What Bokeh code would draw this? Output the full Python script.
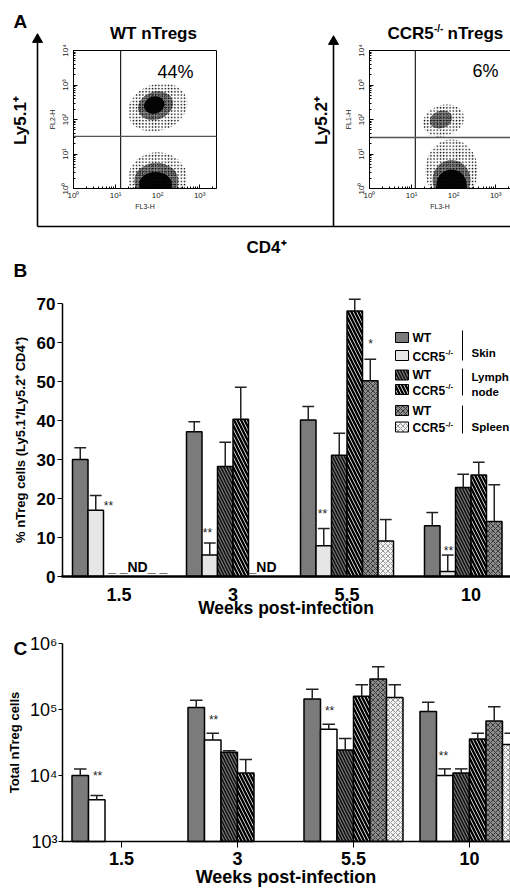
import math
from bokeh.plotting import figure
from bokeh.models import (Range1d, FixedTicker, ColumnDataSource, LinearAxis, LogAxis, LogScale)
from bokeh.layouts import column
from bokeh.embed import file_html
from bokeh.resources import INLINE
from bokeh.core.properties import value

FONT = "Liberation Sans"
nan = float("nan")

# ---------------------------------------------------------------- data
# Panel A: flow-cytometry populations (log10 units), layered density estimate
# centre x (FL3-H), centre y (FL2-H / FL1-H), width, height, tilt, layer (0 halo, 1 body, 2 core)
wt_pop_x = [2.00, 1.95, 1.92, 2.00, 1.97, 1.95]
wt_pop_y = [2.35, 2.40, 2.42, 0.30, 0.22, 0.12]
wt_pop_w = [1.45, 0.85, 0.50, 1.40, 1.05, 0.78]
wt_pop_h = [1.35, 0.80, 0.50, 1.50, 1.05, 0.72]
wt_pop_tilt = [0.35, 0.35, 0.30, 0.0, 0.0, 0.0]
wt_pop_layer = [0, 1, 2, 0, 1, 2]
wt_upper_pct = "44%"

ko_pop_x = [1.76, 1.70, 1.95, 1.95, 1.95]
ko_pop_y = [1.97, 2.00, 0.52, 0.25, 0.10]
ko_pop_w = [1.00, 0.55, 1.25, 0.90, 0.72]
ko_pop_h = [0.90, 0.50, 1.80, 1.15, 0.90]
ko_pop_tilt = [0.3, 0.3, 0.0, 0.0, 0.0]
ko_pop_layer = [0, 1, 0, 1, 2]
ko_upper_pct = "6%"

wt_gate_x, wt_gate_y = 1.12, 1.51
ko_gate_x, ko_gate_y = 1.09, 1.48
facs_decades = [0, 1, 2, 3, 4]
facs_tick_labels = ["10⁰", "10¹", "10²", "10³", "10⁴"]

# Panels B and C
weeks = ["1.5", "3", "5.5", "10"]
series = ["WT skin", "CCR5-/- skin", "WT lymph node", "CCR5-/- lymph node", "WT spleen", "CCR5-/- spleen"]

# Panel B: % nTreg cells (Ly5.1+/Ly5.2+ CD4+), mean and SEM
pct_wt_skin = [30.0, 37.1, 40.1, 13.0]
pct_ko_skin = [17.0, 5.5, 7.9, 1.3]
pct_wt_ln = [nan, 28.2, 31.1, 22.8]
pct_ko_ln = [nan, 40.3, 68.1, 26.0]
pct_wt_spl = [nan, nan, 50.2, 14.1]
pct_ko_spl = [nan, nan, 9.1, nan]
sem_wt_skin = [3.0, 2.6, 3.5, 3.4]
sem_ko_skin = [3.8, 3.1, 4.4, 4.2]
sem_wt_ln = [nan, 6.2, 5.6, 3.4]
sem_ko_ln = [nan, 8.2, 3.0, 3.3]
sem_wt_spl = [nan, nan, 5.5, 9.4]
sem_ko_spl = [nan, nan, 5.5, nan]
pct_ticks = [0, 10, 20, 30, 40, 50, 60, 70]
nd_weeks_b = ["1.5", "3"]
nd_text_b = ["_ _ND_ _", "_ND"]

# Panel C: total nTreg cells, mean and SEM
tot_wt_skin = [1.0e4, 1.07e5, 1.44e5, 9.3e4]
tot_ko_skin = [4.3e3, 3.45e4, 5.0e4, 1.0e4]
tot_wt_ln = [nan, 2.25e4, 2.44e4, 1.09e4]
tot_ko_ln = [nan, 1.09e4, 1.59e5, 3.57e4]
tot_wt_spl = [nan, nan, 2.9e5, 6.7e4]
tot_ko_spl = [nan, nan, 1.52e5, 2.94e4]
sem_tot_wt_skin = [2.6e3, 3.1e4, 5.9e4, 3.6e4]
sem_tot_ko_skin = [6.7e2, 9.1e3, 1.0e4, 2.6e3]
sem_tot_wt_ln = [nan, 1.3e3, 1.2e4, 1.7e3]
sem_tot_ko_ln = [nan, 6.5e3, 7.8e4, 7.9e3]
sem_tot_wt_spl = [nan, nan, 1.54e5, 4.3e4]
sem_tot_ko_spl = [nan, nan, 8.5e4, 1.42e4]
tot_ticks = [1e3, 1e4, 1e5, 1e6]
tot_tick_labels = ["10³", "10⁴", "10⁵", "10⁶"]

# significance marks: week, text, offset from group centre (bar widths), height
sig_b_week = ["1.5", "3", "5.5", "10", "5.5"]
sig_b_text = ["**", "**", "**", "**", "*"]
sig_b_dx = [-0.68, -1.65, -1.58, -1.45, 1.52]
sig_b_y = [18.2, 11.2, 16.1, 6.6, 59.5]
sig_c_week = ["1.5", "3", "5.5", "10"]
sig_c_text = ["**", "**", "**", "**"]
sig_c_dx = [-1.45, -1.45, -1.45, -1.58]
sig_c_y = [1.0e4, 6.9e4, 9.4e4, 2.0e4]


# ---------------------------------------------------------------- helpers
def bar_styles(light_ko_skin):
    return [
        dict(fill_color="#7b7b7b"),
        dict(fill_color=light_ko_skin),
        dict(fill_color="#7a7a7a", hatch_pattern="left_diagonal_line", hatch_color="#111",
             hatch_scale=6, hatch_weight=1.6),
        dict(fill_color="white", hatch_pattern="left_diagonal_line", hatch_color="black",
             hatch_scale=7, hatch_weight=2.4),
        dict(fill_color="#8c8c8c", hatch_pattern="diagonal_cross", hatch_color="#3a3a3a",
             hatch_scale=5, hatch_weight=1),
        dict(fill_color="#f4f4f4", hatch_pattern="diagonal_cross", hatch_color="#9a9a9a",
             hatch_scale=5, hatch_weight=1),
    ]


def txt(p, x, y, text, size, bold=False, align="center", baseline="middle", angle=0.0, color="black"):
    p.text(x=[x], y=[y], text=[text], text_font=value(FONT), text_font_size=f"{size}px",
           text_font_style="bold" if bold else "normal", text_align=align,
           text_baseline=baseline, angle=angle, text_color=color)


def canvas_fig(height, x_range, y_range, y_log=False):
    p = figure(width=510, height=height, x_range=x_range, y_range=y_range,
               x_axis_location=None, y_axis_location=None, title=None,
               output_backend="svg", toolbar_location=None, min_border=0)
    if y_log:
        p.y_scale = LogScale()
    p.grid.visible = False
    p.outline_line_color = None
    p.background_fill_color = "white"
    p.border_fill_color = "white"
    return p


def style_axis(ax, label_size, bold_labels):
    ax.axis_line_color = "black"
    ax.major_tick_line_color = "black"
    ax.minor_tick_line_color = None
    ax.axis_label_text_font = FONT
    ax.axis_label_text_font_style = "bold"
    ax.axis_label_text_color = "black"
    ax.major_label_text_font = FONT
    ax.major_label_text_color = "black"
    ax.major_label_text_font_size = f"{label_size}px"
    ax.major_label_text_font_style = "bold" if bold_labels else "normal"


# ---------------------------------------------------------------- panel A
# page-pixel canvas for the decorations, log10 ranges for the two flow plots
PXX, PXY = 42.06, 34.5
pa = canvas_fig(258, Range1d(0, 510), Range1d(258, 0))
pa.extra_x_ranges = {"wt_x": Range1d((0 - 73) / PXX, (510 - 73) / PXX),
                     "ko_x": Range1d((0 - 369) / PXX, (510 - 369) / PXX)}
pa.extra_y_ranges = {"facs_y": Range1d((188 - 258) / PXY, (188 - 0) / PXY)}

minor = [d + math.log10(m) for d in range(4) for m in range(2, 10)]


def facs(p, xname, xmax, ylabel, xs, ys, ws, hs, tilts, layers, gx, gy, pct, pct_xy):
    rn = dict(x_range_name=xname, y_range_name="facs_y")
    for lay, style in ((0, dict(fill_alpha=0, hatch_pattern="dot", hatch_color="black",
                                hatch_scale=3.2, hatch_weight=1.0)),
                       (1, dict(fill_color="black", fill_alpha=0.45, hatch_pattern="dot",
                                hatch_color="black", hatch_scale=2.2, hatch_weight=1.4)),
                       (2, dict(fill_color="black", fill_alpha=0.95))):
        idx = [i for i, l in enumerate(layers) if l == lay]
        if not idx:
            continue
        src = ColumnDataSource(dict(x=[xs[i] for i in idx], y=[ys[i] for i in idx],
                                    w=[ws[i] for i in idx], h=[hs[i] for i in idx],
                                    a=[tilts[i] for i in idx]))
        p.ellipse(x="x", y="y", width="w", height="h", angle="a", source=src,
                  line_color=None, **style, **rn)
    # mask what falls below the lower axis of the plot box
    p.quad(left=[-0.2], right=[xmax], bottom=[-0.7], top=[0], fill_color="white",
           line_color=None, **rn)
    p.quad(left=[0], right=[xmax], bottom=[0], top=[4], fill_color=None,
           line_color="black", line_width=1, **rn)
    p.segment(x0=[gx], y0=[0], x1=[gx], y1=[4], line_color="#222", line_width=1.2, **rn)
    p.segment(x0=[0], y0=[gy], x1=[xmax], y1=[gy], line_color="#555", line_width=1.4, **rn)
    overrides = dict(zip(facs_decades, facs_tick_labels))
    xa = LinearAxis(fixed_location=0, bounds=(0, min(xmax, 3.4)), axis_label="FL3-H", **rn)
    ya = LinearAxis(fixed_location=0, bounds=(0, 4), axis_label=ylabel, **rn)
    xa.ticker = FixedTicker(ticks=facs_decades[:4], minor_ticks=[m for m in minor if m < xmax])
    ya.ticker = FixedTicker(ticks=facs_decades, minor_ticks=minor)
    for ax in (xa, ya):
        ax.major_label_overrides = overrides
        ax.major_tick_in = 4
        ax.major_tick_out = 0
        ax.minor_tick_in = 2
        ax.minor_tick_out = 0
        ax.major_tick_line_color = "black"
        ax.minor_tick_line_color = "black"
        ax.axis_line_color = "black"
        ax.major_label_text_font = FONT
        ax.major_label_text_font_size = "8px"
        ax.major_label_text_color = "#222"
        ax.axis_label_text_font = FONT
        ax.axis_label_text_font_size = "7px"
        ax.axis_label_text_font_style = "normal"
        ax.axis_label_text_color = "#222"
    xa.major_label_standoff = 2
    xa.axis_label_standoff = 0
    ya.major_label_orientation = "vertical"
    ya.major_label_standoff = 4
    ya.axis_label_standoff = 2
    p.add_layout(xa, "below")
    p.add_layout(ya, "left")
    txt(p, pct_xy[0], pct_xy[1], pct, 18)


facs(pa, "wt_x", 143 / PXX, "FL2-H", wt_pop_x, wt_pop_y, wt_pop_w, wt_pop_h, wt_pop_tilt,
     wt_pop_layer, wt_gate_x, wt_gate_y, wt_upper_pct, (175, 71))
facs(pa, "ko_x", 141 / PXX + 0.2, "FL1-H", ko_pop_x, ko_pop_y, ko_pop_w, ko_pop_h, ko_pop_tilt,
     ko_pop_layer, ko_gate_x, ko_gate_y, ko_upper_pct, (485, 70))

# decorations (page pixels)
txt(pa, 13, 21, "A", 19, bold=True, align="left")
pa.segment(x0=[37, 333, 37], y0=[226, 226, 226], x1=[37, 333, 510], y1=[42, 44, 226],
           line_color="black", line_width=1.6)
pa.scatter(x=[37, 333], y=[39, 41], marker="triangle", size=10, fill_color="black",
           line_color="black")
txt(pa, 20, 120, "Ly5.1⁺", 17, bold=True, angle=math.pi / 2)
txt(pa, 321, 120, "Ly5.2⁺", 17, bold=True, angle=math.pi / 2)
txt(pa, 153, 33, "WT nTregs", 17, bold=True)
txt(pa, 387, 33, "CCR5", 17, bold=True, align="left")
txt(pa, 433.5, 28, "-/-", 10, bold=True, align="left")
txt(pa, 447, 33, "nTregs", 17, bold=True, align="left")
txt(pa, 266, 247, "CD4⁺", 17, bold=True)


# ---------------------------------------------------------------- bar panels
def bar_panel(p, centers, means, sems, styles, cap, base):
    for k in range(len(series)):
        xs, tops, errs = [], [], []
        for i in range(len(weeks)):
            m = means[k][i]
            if m == m:
                xs.append(centers[i] + (k - 2.5))
                tops.append(m)
                errs.append(m + sems[k][i])
        src = ColumnDataSource(dict(x=xs, top=tops, err=errs,
                                    c0=[x - cap for x in xs], c1=[x + cap for x in xs]))
        p.vbar(x="x", top="top", bottom=base, width=1.0, source=src,
               line_color="black", line_width=1.5, **styles[k])
        p.segment(x0="x", y0="top", x1="x", y1="err", source=src, line_color="#222", line_width=1.5)
        p.segment(x0="c0", y0="err", x1="c1", y1="err", source=src, line_color="#222", line_width=1.5)


# Panel B  (page y 258..622); 15.5 px per bar, 3.9 px per percent
centers_b = [0.0, 7.355, 14.71, 22.71]   # group positions along the axis, in bar widths
BX = lambda xp: (xp - 118.5) / 15.5
BY = lambda yp: (576 - yp) / 3.9
pb = canvas_fig(364, Range1d(BX(0), BX(510)), Range1d(BY(622), BY(258)))
bar_panel(pb, centers_b,
          [pct_wt_skin, pct_ko_skin, pct_wt_ln, pct_ko_ln, pct_wt_spl, pct_ko_spl],
          [sem_wt_skin, sem_ko_skin, sem_wt_ln, sem_ko_ln, sem_wt_spl, sem_ko_spl],
          bar_styles("#e6e6e6"), 0.38, 0)

yb = LinearAxis(fixed_location=BX(62), bounds=(0, 70), ticker=FixedTicker(ticks=pct_ticks),
                axis_label="% nTreg cells (Ly5.1⁺/Ly5.2⁺ CD4⁺)")
style_axis(yb, 17, True)
yb.major_tick_out = 5
yb.major_tick_in = 0
yb.major_label_standoff = 2
yb.axis_line_width = 1.5
yb.axis_label_text_font_size = "13px"
yb.axis_label_standoff = 6
pb.add_layout(yb, "left")

xb = LinearAxis(fixed_location=0, bounds=(BX(61), BX(510)), ticker=FixedTicker(ticks=centers_b),
                axis_label="Weeks post-infection")
style_axis(xb, 18, True)
xb.major_label_overrides = dict(zip(centers_b, weeks))
xb.major_tick_out = 0
xb.major_tick_in = 0
xb.axis_line_width = 2.5
xb.major_label_standoff = 11
xb.axis_label_text_font_size = "17.5px"
xb.axis_label_standoff = -6
pb.add_layout(xb, "below")

# ND marks
nd_x = [centers_b[weeks.index(w)] for w in nd_weeks_b]
txt(pb, nd_x[0] + 1.2, 2.4, nd_text_b[0], 14, bold=True, baseline="alphabetic")
txt(pb, nd_x[1] + 1.0, 2.4, nd_text_b[1], 14, bold=True, align="left", baseline="alphabetic")

# significance
pb.text(x=[centers_b[weeks.index(w)] + d for w, d in zip(sig_b_week, sig_b_dx)], y=sig_b_y,
        text=sig_b_text, text_font=value(FONT), text_font_size="12px", text_align="center",
        text_baseline="middle", text_color="#222")

txt(pb, BX(13), BY(270), "B", 19, bold=True, align="left")

# legend (grouped layout)
leg_rows = [337, 355, 374.5, 389, 410, 426.5]
stys = bar_styles("#e6e6e6")
for k, yp in enumerate(leg_rows):
    pb.rect(x=[BX(401.5)], y=[BY(yp)], width=13 / 15.5, height=10 / 3.9,
            line_color="black", line_width=1, **stys[k])
    if k % 2 == 0:
        txt(pb, BX(412), BY(yp), "WT", 12, bold=True, align="left")
    else:
        txt(pb, BX(412), BY(yp + 1), "CCR5", 12, bold=True, align="left")
        txt(pb, BX(445), BY(yp - 3), "-/-", 8, bold=True, align="left")
pb.segment(x0=[BX(462)] * 3, y0=[BY(330), BY(368), BY(405)],
           x1=[BX(462)] * 3, y1=[BY(360), BY(395), BY(433)], line_color="black", line_width=1)
txt(pb, BX(471), BY(352), "Skin", 11.5, bold=True, align="left")
txt(pb, BX(471), BY(376), "Lymph", 11.5, bold=True, align="left")
txt(pb, BX(471), BY(391), "node", 11.5, bold=True, align="left")
txt(pb, BX(471), BY(426), "Spleen", 11.5, bold=True, align="left")

# Panel C  (page y 622..894); 16.5 px per bar, 66 px per decade
PC = 7.03
centers_c = [i * PC for i in range(len(weeks))]
CX = lambda xp: (xp - 121) / 16.5
CY = lambda yp: 10 ** (3 + (841 - yp) / 66.0)
pc = canvas_fig(272, Range1d(CX(0), CX(510)), Range1d(CY(894), CY(622)), y_log=True)
bar_panel(pc, centers_c,
          [tot_wt_skin, tot_ko_skin, tot_wt_ln, tot_ko_ln, tot_wt_spl, tot_ko_spl],
          [sem_tot_wt_skin, sem_tot_ko_skin, sem_tot_wt_ln, sem_tot_ko_ln, sem_tot_wt_spl, sem_tot_ko_spl],
          bar_styles("white"), 0.38, 1e3)

yc = LogAxis(fixed_location=CX(62), bounds=(1e3, 1e6), ticker=FixedTicker(ticks=tot_ticks),
             axis_label="Total nTreg cells")
style_axis(yc, 18, False)
yc.major_label_overrides = dict(zip(tot_ticks, tot_tick_labels))
yc.major_tick_out = 4
yc.major_tick_in = 0
yc.major_label_standoff = 1
yc.axis_line_width = 1.5
yc.axis_label_text_font_size = "13px"
yc.axis_label_standoff = 5
pc.add_layout(yc, "left")

xc = LinearAxis(fixed_location=1e3, bounds=(CX(61), CX(510)), ticker=FixedTicker(ticks=centers_c),
                axis_label="Weeks post-infection")
style_axis(xc, 18, True)
xc.major_label_overrides = dict(zip(centers_c, weeks))
xc.major_tick_out = 6
xc.major_tick_in = 0
xc.axis_line_width = 1.5
xc.major_label_standoff = 4
xc.axis_label_text_font_size = "18px"
xc.axis_label_standoff = -1
pc.add_layout(xc, "below")

pc.text(x=[centers_c[weeks.index(w)] + d for w, d in zip(sig_c_week, sig_c_dx)], y=sig_c_y,
        text=sig_c_text, text_font=value(FONT), text_font_size="12px", text_align="center",
        text_baseline="middle", text_color="#222")
txt(pc, CX(13), CY(648), "C", 19, bold=True, align="left")

layout = column(pa, pb, pc)
open("out.html", "w").write(file_html(layout, INLINE))
